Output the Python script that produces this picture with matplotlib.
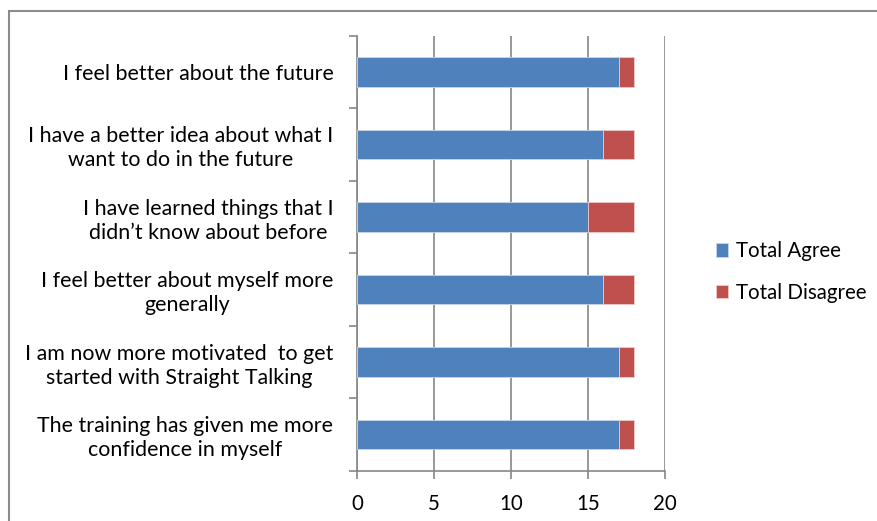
import matplotlib.pyplot as plt
from matplotlib.patches import Rectangle
import numpy as np

plt.rcParams['font.family'] = ['Lato', 'DejaVu Sans']

categories = [
    "The training has given me more\nconfidence in myself",
    "I am now more motivated  to get\nstarted with Straight Talking",
    "I feel better about myself more\ngenerally",
    "I have learned things that I\ndidn\u2019t know about before",
    "I have a better idea about what I\nwant to do in the future",
    "I feel better about the future",
]
agree = [17, 17, 16, 15, 16, 17]
disagree = [1, 1, 2, 3, 2, 1]
xticks = [0, 5, 10, 15, 20]

blue = "#4F81BD"
red = "#C0504D"
grey = "#868686"
fs = 14.8

fig = plt.figure(figsize=(8.78, 5.21), dpi=100)
fig.patches.append(Rectangle((9 / 878, -0.1), 1.2, 1 - 11 / 521 + 0.1,
                             transform=fig.transFigure, fill=False,
                             edgecolor="#8c8c8c", linewidth=1.5))
ax = fig.add_axes([357 / 878, (521 - 470.7) / 521, 308 / 878, 435 / 521])

y = np.arange(len(categories))
ax.barh(y, agree, height=0.41, color=blue, edgecolor="#c9d6ea", linewidth=0.6,
        label="Total Agree", zorder=3)
ax.barh(y, disagree, left=agree, height=0.41, color=red, edgecolor="#eccaca",
        linewidth=0.6, label="Total Disagree", zorder=3)

ax.set_xlim(0, 20)
ax.set_ylim(-0.5, len(categories) - 0.5)
ax.set_xticks(xticks)
ax.set_xticklabels([str(t) for t in xticks], fontsize=fs)
ax.xaxis.grid(True, color=grey, linewidth=1.2, zorder=0)

ax.set_yticks(np.arange(-0.5, len(categories), 1.0))
ax.set_yticklabels([])
ax.set_yticks(y, minor=True)
ax.set_yticklabels(categories, minor=True, fontsize=15.4, ha="right",
                   multialignment="center", linespacing=1.25)
ax.tick_params(axis="y", which="minor", length=0, pad=17)
ax.tick_params(axis="y", which="major", length=6, color=grey, width=1.2)
ax.tick_params(axis="x", length=6, color=grey, width=1.2, pad=11)

for s in ["top", "right"]:
    ax.spines[s].set_visible(False)
for s in ["left", "bottom"]:
    ax.spines[s].set_color(grey)
    ax.spines[s].set_linewidth(1.2)

ax.legend(loc="center left", bbox_to_anchor=(697 / 878, 1 - 272 / 521),
          bbox_transform=fig.transFigure, frameon=False, fontsize=fs,
          handlelength=0.63, handleheight=0.63, handletextpad=0.35,
          labelspacing=1.05)

fig.savefig("out.png", dpi=100)
